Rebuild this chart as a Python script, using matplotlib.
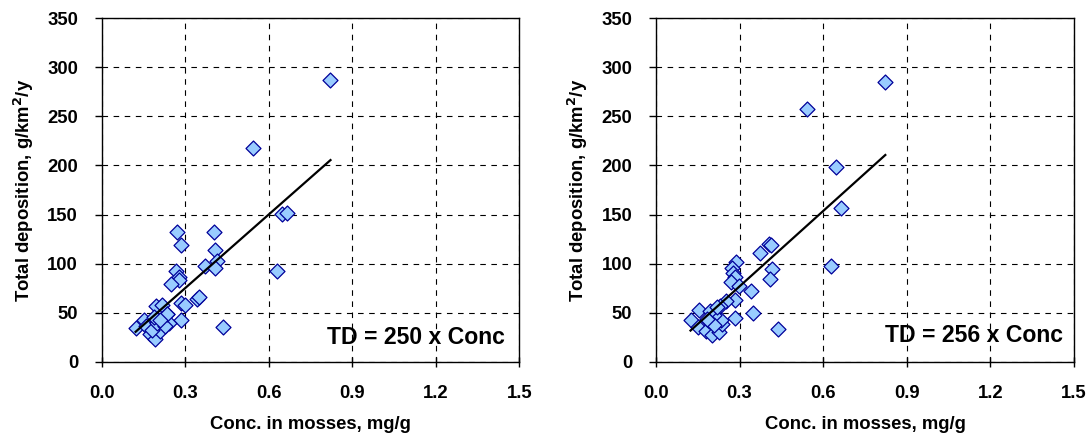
import numpy as np
import matplotlib
matplotlib.use('Agg')
import matplotlib.pyplot as plt

plt.rcParams['font.family'] = ['Liberation Sans', 'DejaVu Sans']
plt.rcParams['font.weight'] = 'bold'

# moss concentration (mg/g) vs total deposition (g/km2/y), two model runs
conc_a = [0.822, 0.543, 0.647, 0.665, 0.630, 0.271, 0.405, 0.284, 0.408, 0.413,
          0.372, 0.408, 0.267, 0.279, 0.277, 0.249, 0.341, 0.350, 0.284, 0.300,
          0.284, 0.436, 0.122, 0.151, 0.159, 0.174, 0.192, 0.195, 0.218, 0.234,
          0.219, 0.210, 0.180, 0.198, 0.243, 0.227, 0.236, 0.188, 0.210]
dep_a = [287, 218, 151, 152, 92, 132, 132, 119, 114, 103,
         98, 96, 92, 86, 83, 79, 64, 66, 60, 58,
         42, 35, 34, 42, 36, 28, 23, 57, 58, 49,
         37, 31, 32, 39, 39, 36, 49, 46, 42]

conc_b = [0.823, 0.542, 0.646, 0.665, 0.628, 0.406, 0.411, 0.374, 0.415, 0.410,
          0.342, 0.286, 0.274, 0.278, 0.285, 0.268, 0.299, 0.282, 0.250, 0.230,
          0.349, 0.285, 0.437, 0.154, 0.124, 0.151, 0.178, 0.201, 0.225, 0.237,
          0.233, 0.209, 0.194, 0.189, 0.210, 0.182, 0.218]
dep_b = [285, 258, 198, 157, 98, 120, 119, 111, 94, 84,
         72, 102, 96, 90, 86, 81, 77, 63, 62, 57,
         50, 45, 33, 53, 42, 35, 31, 27, 30, 38,
         43, 48, 52, 41, 37, 44, 56]

slopes = [250, 256]
x_ticks = [0.0, 0.3, 0.6, 0.9, 1.2, 1.5]
y_ticks = [0, 50, 100, 150, 200, 250, 300, 350]

fig = plt.figure(figsize=(10.92, 4.38), dpi=100)
ax_a = fig.add_axes([0.0931, 0.1742, 0.3824, 0.784])
ax_b = fig.add_axes([0.6007, 0.1742, 0.3828, 0.784])

panels = [(ax_a, conc_a, dep_a, slopes[0], 24.4, 1.447),
          (ax_b, conc_b, dep_b, slopes[1], 27.2, 1.462)]

for ax, conc, dep, k, ty, tx in panels:
    ax.scatter(conc, dep, marker='D', s=58, facecolor='#99CCFF',
               edgecolor='#000099', linewidth=0.9, zorder=3)
    xs = np.array([min(conc), max(conc)])
    ax.plot(xs, k * xs, color='black', linewidth=1.6, zorder=4)
    ax.text(tx, ty, 'TD = %d x Conc' % k, ha='right', va='center',
            fontsize=16.6, fontweight='bold')

    ax.set_xlim(0, 1.5)
    ax.set_ylim(0, 350)
    ax.set_xticks(x_ticks)
    ax.set_xticklabels(['%.1f' % v for v in x_ticks])
    ax.set_yticks(y_ticks)
    ax.grid(True, color='black', linestyle=(0, (5, 5)), linewidth=0.8)
    ax.set_axisbelow(True)
    for sp in ax.spines.values():
        sp.set_linewidth(1.0)
    ax.tick_params(axis='x', direction='inout', length=7, width=1.0,
                   labelsize=13.3, pad=13)
    ax.tick_params(axis='y', direction='out', length=5, width=1.0,
                   labelsize=13.3, pad=12)
    ax.set_xlabel('Conc. in mosses, mg/g', fontsize=13.3, fontweight='bold',
                  labelpad=10)
    ax.set_ylabel('Total deposition, g/km$^\\mathbf{2}$/y', fontsize=13.3,
                  fontweight='bold', labelpad=8)

fig.savefig('out.png', dpi=100)
